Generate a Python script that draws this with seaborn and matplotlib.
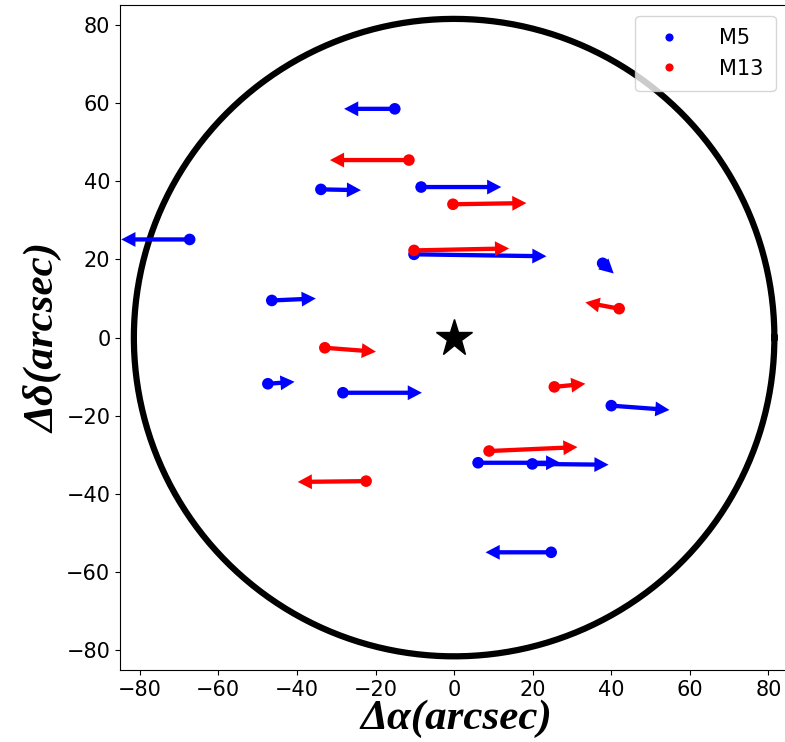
import numpy as np
import pandas as pd
import matplotlib
matplotlib.use("Agg")
import matplotlib.pyplot as plt
import seaborn as sns

# M5 stars: start position and arrow tip (arcsec)
m5_x0 = [-15.1, -67.3, -33.9, -8.4, -10.2, 37.8, -46.4, -47.4, -28.3, 40.0, 6.1, 19.9, 24.7]
m5_y0 = [58.5, 25.1, 37.9, 38.5, 21.3, 19.0, 9.5, -11.8, -14.1, -17.4, -32.0, -32.3, -54.9]
m5_x1 = [-28.0, -84.7, -23.7, 12.0, 23.5, 40.6, -35.2, -40.6, -8.2, 54.8, 27.0, 39.3, 8.0]
m5_y1 = [58.5, 25.1, 37.7, 38.5, 20.8, 16.4, 10.0, -11.3, -14.1, -18.5, -32.0, -32.5, -54.9]

# M13 stars
m13_x0 = [-11.5, -0.3, -10.2, 42.0, -32.9, 25.5, 8.9, -22.4]
m13_y0 = [45.4, 34.1, 22.3, 7.4, -2.6, -12.6, -29.0, -36.7]
m13_x1 = [-31.6, 18.4, 14.0, 33.4, -19.9, 33.4, 31.4, -39.8]
m13_y1 = [45.4, 34.4, 22.8, 9.0, -3.6, -11.8, -28.0, -36.9]

radius = 81.5

df = pd.concat([
    pd.DataFrame({"x": m5_x0, "y": m5_y0, "x1": m5_x1, "y1": m5_y1, "cluster": "M5"}),
    pd.DataFrame({"x": m13_x0, "y": m13_y0, "x1": m13_x1, "y1": m13_y1, "cluster": "M13"}),
], ignore_index=True)
colors = {"M5": "blue", "M13": "red"}

fig = plt.figure(figsize=(7.85, 7.42), dpi=100)
# right spine falls just outside the picture, as in the original crop
ax = fig.add_axes([0.153, 0.097, 0.856, 0.896])

# field of view circle
t = np.linspace(0, 2 * np.pi, 400)
ax.plot(radius * np.cos(t), radius * np.sin(t), color="black", lw=4.5, zorder=1)

# proper-motion arrows
for _, r in df.iterrows():
    ax.arrow(r["x"], r["y"], r["x1"] - r["x"], r["y1"] - r["y"],
             width=1.1, head_width=3.8, head_length=3.6,
             length_includes_head=True, color=colors[r["cluster"]],
             lw=0, zorder=2)

sns.scatterplot(data=df, x="x", y="y", hue="cluster", palette=colors,
                s=70, edgecolor="none", ax=ax, zorder=3)

ax.plot(0, 0, marker="*", color="black", markersize=28, zorder=4)

ax.set_xlim(-85, 86)
ax.set_ylim(-85, 85)
ticks = [-80, -60, -40, -20, 0, 20, 40, 60, 80]
ax.set_xticks(ticks)
ax.set_yticks(ticks)
ax.tick_params(labelsize=15)

lab = dict(fontsize=31, fontstyle="italic", fontweight="bold", family="Liberation Serif")
ax.set_xlabel("Δα(arcsec)", labelpad=0, **lab)
ax.set_ylabel("Δδ(arcsec)", labelpad=2, **lab)

leg = ax.legend(loc="upper right", fontsize=15, title=None, markerscale=0.7,
                handletextpad=1.4, borderpad=0.6, bbox_to_anchor=(0.991, 1.0))

fig.savefig("out.png", dpi=100)
